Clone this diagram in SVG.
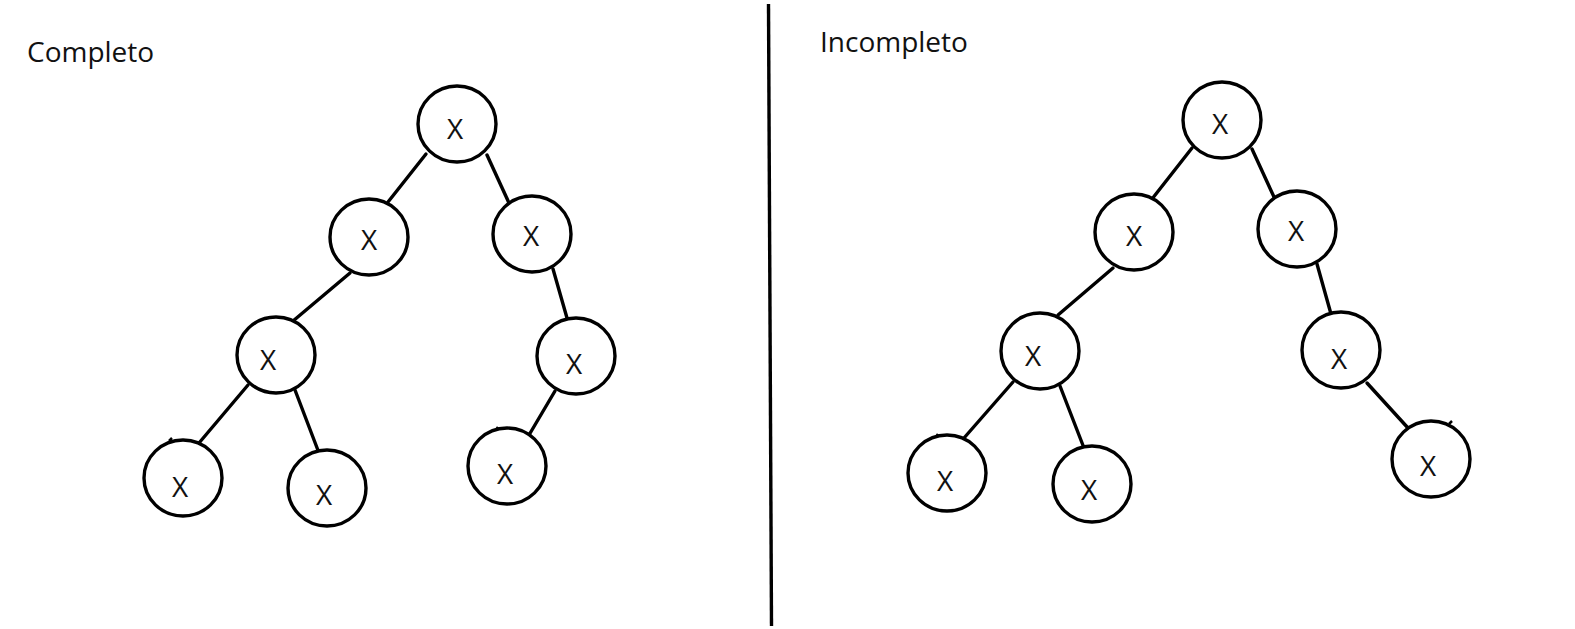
<svg xmlns="http://www.w3.org/2000/svg" width="1575" height="629" viewBox="0 0 1575 629">
<style>
.n{fill:#fff;stroke:#000;stroke-width:3.4}
.t{font-family:"Open Sans","Noto Sans",sans-serif;font-size:28px;fill:#111;text-anchor:middle}
.h{font-family:"Open Sans","Noto Sans",sans-serif;font-size:28px;fill:#111}
.e{stroke:#000;stroke-width:3.4;fill:none;stroke-linecap:round}
.k{stroke:#000;stroke-width:2.5;fill:none}
</style>
<rect width="1575" height="629" fill="#fff"/>
<text class="h" x="27" y="62">Completo</text>
<text class="h" x="820" y="52">Incompleto</text>
<line x1="768.5" y1="4" x2="771.5" y2="626" stroke="#000" stroke-width="3.4"/>
<g id="connectors">
<line class="e" x1="426" y1="154" x2="388" y2="202"/>
<line class="e" x1="487" y1="155" x2="509" y2="203"/>
<line class="e" x1="350" y1="273" x2="293" y2="321"/>
<line class="e" x1="553" y1="269" x2="567" y2="318"/>
<line class="e" x1="248" y1="385" x2="199" y2="443"/>
<line class="e" x1="295" y1="390" x2="319" y2="453"/>
<line class="e" x1="555" y1="391" x2="529" y2="435"/>
<line class="e" x1="1192" y1="148" x2="1152" y2="199"/>
<line class="e" x1="1252" y1="149" x2="1274" y2="197"/>
<line class="e" x1="1113" y1="268" x2="1058" y2="315"/>
<line class="e" x1="1317" y1="264" x2="1331" y2="314"/>
<line class="e" x1="1013" y1="382" x2="964" y2="438"/>
<line class="e" x1="1060" y1="386" x2="1084" y2="448"/>
<line class="e" x1="1367" y1="383" x2="1408" y2="428"/>
</g>
<g id="c-root"><ellipse class="n" cx="457" cy="124" rx="39" ry="38"/><text class="t" x="455" y="139">X</text></g>
<g id="c-l"><ellipse class="n" cx="369" cy="237" rx="39" ry="38"/><text class="t" x="369" y="250">X</text></g>
<g id="c-r"><ellipse class="n" cx="532" cy="234" rx="39" ry="38"/><text class="t" x="531" y="246">X</text></g>
<g id="c-ll"><ellipse class="n" cx="276" cy="355" rx="39" ry="38"/><text class="t" x="268" y="370">X</text></g>
<g id="c-rr"><ellipse class="n" cx="576" cy="356" rx="39" ry="38"/><text class="t" x="574" y="374">X</text></g>
<g id="c-lll"><ellipse class="n" cx="183" cy="478" rx="39" ry="38"/><path class="k" d="M169 441 L172 438"/><text class="t" x="180" y="497">X</text></g>
<g id="c-llr"><ellipse class="n" cx="327" cy="488" rx="39" ry="38"/><text class="t" x="324" y="505">X</text></g>
<g id="c-rrl"><ellipse class="n" cx="507" cy="466" rx="39" ry="38"/><path class="k" d="M496 430 L498 427"/><text class="t" x="505" y="484">X</text></g>
<g id="i-root"><ellipse class="n" cx="1222" cy="120" rx="39" ry="38"/><text class="t" x="1220" y="134">X</text></g>
<g id="i-l"><ellipse class="n" cx="1134" cy="232" rx="39" ry="38"/><text class="t" x="1134" y="246">X</text></g>
<g id="i-r"><ellipse class="n" cx="1297" cy="229" rx="39" ry="38"/><text class="t" x="1296" y="241">X</text></g>
<g id="i-ll"><ellipse class="n" cx="1040" cy="351" rx="39" ry="38"/><text class="t" x="1033" y="366">X</text></g>
<g id="i-rr"><ellipse class="n" cx="1341" cy="350" rx="39" ry="38"/><text class="t" x="1339" y="369">X</text></g>
<g id="i-lll"><ellipse class="n" cx="947" cy="473" rx="39" ry="38"/><path class="k" d="M936 437 L938 434"/><text class="t" x="945" y="491">X</text></g>
<g id="i-llr"><ellipse class="n" cx="1092" cy="484" rx="39" ry="38"/><text class="t" x="1089" y="500">X</text></g>
<g id="i-rrr"><ellipse class="n" cx="1431" cy="459" rx="39" ry="38"/><path class="k" d="M1449 424 L1452 421"/><text class="t" x="1428" y="476">X</text></g>
</svg>
